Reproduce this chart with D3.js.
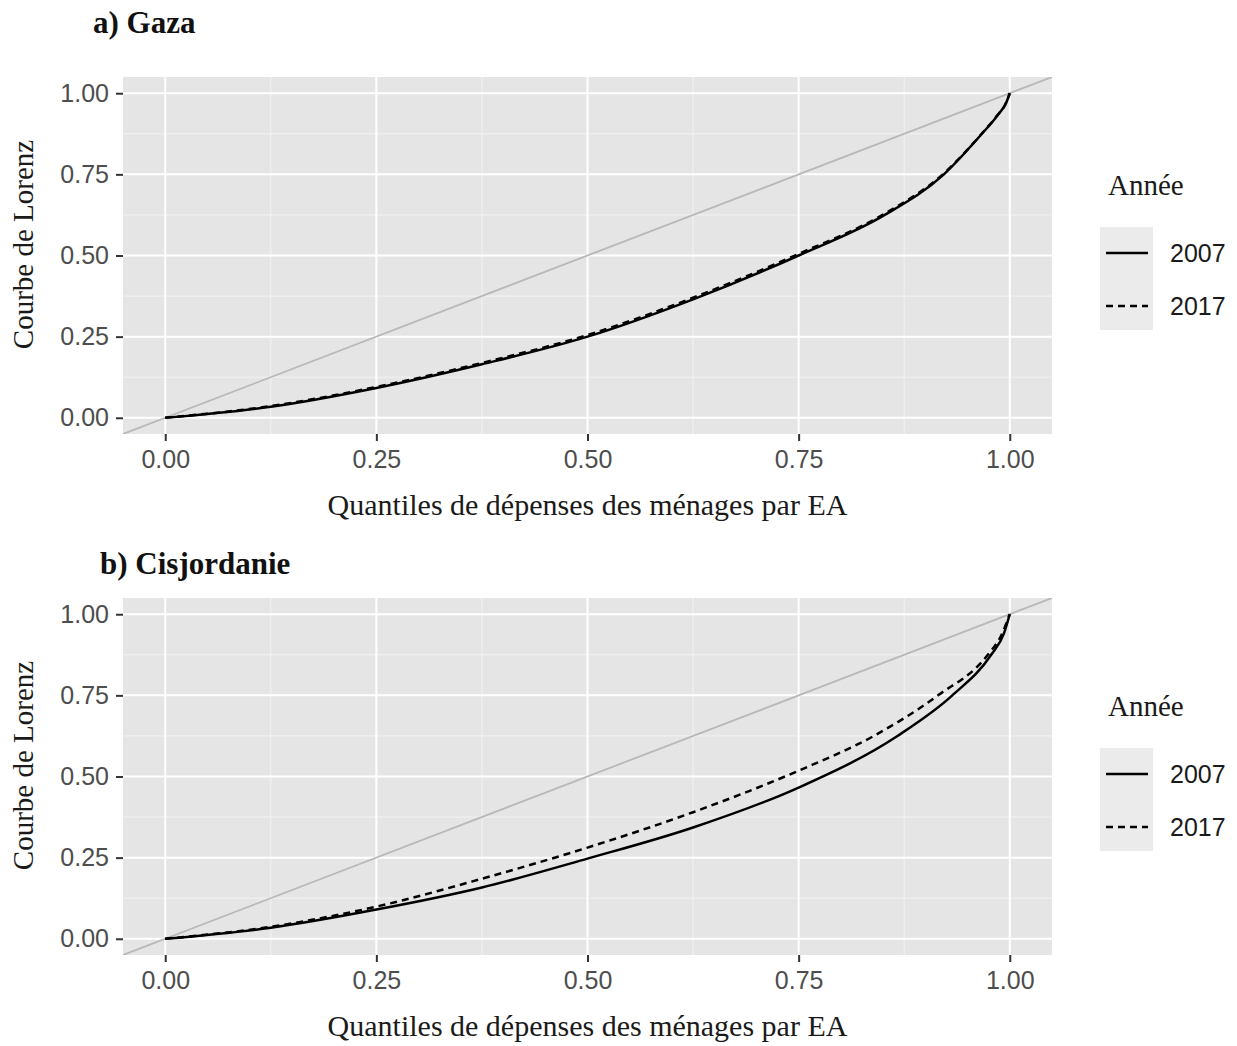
<!DOCTYPE html>
<html>
<head>
<meta charset="utf-8">
<script src="https://cdn.jsdelivr.net/npm/d3@7"></script>
<style>
  html, body { margin: 0; padding: 0; background: #ffffff; }
  svg { display: block; }
</style>
</head>
<body>
<svg id="chart" width="1237" height="1046"></svg>
<script>
// Lorenz curves of household expenditure per adult equivalent (EA)
const years = ["2007", "2017"];
const tickValues = [0, 0.25, 0.5, 0.75, 1];
const tickLabels = ["0.00", "0.25", "0.50", "0.75", "1.00"];
const minorValues = [0.125, 0.375, 0.625, 0.875];

// Gaza: cumulative population share -> cumulative expenditure share
const gazaP2007 = [0, 0.125, 0.25, 0.375, 0.5, 0.625, 0.75, 0.852, 0.922, 0.967, 0.985, 0.996, 1];
const gazaL2007 = [0, 0.034, 0.092, 0.165, 0.25, 0.365, 0.5, 0.625, 0.75, 0.875, 0.93, 0.972, 1];
const gazaP2017 = [0, 0.125, 0.25, 0.375, 0.5, 0.625, 0.75, 0.852, 0.922, 0.967, 0.985, 0.996, 1];
const gazaL2017 = [0, 0.036, 0.095, 0.169, 0.255, 0.37, 0.505, 0.629, 0.753, 0.876, 0.931, 0.972, 1];

// Cisjordanie (West Bank)
const wbP2007 = [0, 0.125, 0.25, 0.375, 0.5, 0.625, 0.75, 0.867, 0.932, 0.978, 0.993, 1];
const wbL2007 = [0, 0.034, 0.09, 0.158, 0.247, 0.343, 0.466, 0.625, 0.75, 0.875, 0.94, 1];
const wbP2017 = [0, 0.125, 0.25, 0.375, 0.5, 0.625, 0.75, 0.839, 0.915, 0.974, 0.99, 1];
const wbL2017 = [0, 0.037, 0.099, 0.185, 0.281, 0.39, 0.518, 0.625, 0.75, 0.875, 0.935, 1];

const zipSeries = (p, l) => p.map((v, i) => ({ p: v, l: l[i] }));

const panels = [
  {
    title: "a) Gaza", titleX: 93, titleY: 33, top: 77, bottom: 434, clip: "clipA",
    series: [zipSeries(gazaP2007, gazaL2007), zipSeries(gazaP2017, gazaL2017)]
  },
  {
    title: "b) Cisjordanie", titleX: 100, titleY: 574, top: 598, bottom: 955, clip: "clipB",
    series: [zipSeries(wbP2007, wbL2007), zipSeries(wbP2017, wbL2017)]
  }
];

const svg = d3.select("#chart");
const left = 123, right = 1052;
const serif = "'Liberation Serif', 'Times New Roman', serif";
const sans = "'Liberation Sans', Arial, sans-serif";
const dashes = [null, "7,5"];

const x = d3.scaleLinear().domain([-0.05, 1.05]).range([left, right]);

panels.forEach(panel => {
  const y = d3.scaleLinear().domain([-0.05, 1.05]).range([panel.bottom, panel.top]);
  const g = svg.append("g");

  // panel title
  svg.append("text")
    .attr("x", panel.titleX).attr("y", panel.titleY)
    .attr("font-family", serif).attr("font-weight", "bold")
    .attr("font-size", 31).attr("fill", "#111")
    .text(panel.title);

  // background
  g.append("rect")
    .attr("x", left).attr("y", panel.top)
    .attr("width", right - left).attr("height", panel.bottom - panel.top)
    .attr("fill", "#e5e5e5");

  svg.append("clipPath").attr("id", panel.clip)
    .append("rect")
    .attr("x", left).attr("y", panel.top)
    .attr("width", right - left).attr("height", panel.bottom - panel.top);

  // minor grid
  g.selectAll(".minx").data(minorValues).join("line")
    .attr("x1", d => x(d)).attr("x2", d => x(d))
    .attr("y1", panel.top).attr("y2", panel.bottom)
    .attr("stroke", "#f3f3f3").attr("stroke-width", 1);
  g.selectAll(".miny").data(minorValues).join("line")
    .attr("y1", d => y(d)).attr("y2", d => y(d))
    .attr("x1", left).attr("x2", right)
    .attr("stroke", "#f3f3f3").attr("stroke-width", 1);

  // major grid
  g.selectAll(".majx").data(tickValues).join("line")
    .attr("x1", d => x(d)).attr("x2", d => x(d))
    .attr("y1", panel.top).attr("y2", panel.bottom)
    .attr("stroke", "#ffffff").attr("stroke-width", 2);
  g.selectAll(".majy").data(tickValues).join("line")
    .attr("y1", d => y(d)).attr("y2", d => y(d))
    .attr("x1", left).attr("x2", right)
    .attr("stroke", "#ffffff").attr("stroke-width", 2);

  const plot = g.append("g").attr("clip-path", `url(#${panel.clip})`);

  // line of perfect equality
  plot.append("line")
    .attr("x1", x(-0.05)).attr("y1", y(-0.05))
    .attr("x2", x(1.05)).attr("y2", y(1.05))
    .attr("stroke", "#b8b8b8").attr("stroke-width", 1.8);

  const line = d3.line()
    .x(d => x(d.p)).y(d => y(d.l))
    .curve(d3.curveMonotoneX);

  panel.series.forEach((s, i) => {
    plot.append("path")
      .datum(s)
      .attr("d", line)
      .attr("fill", "none")
      .attr("stroke", "#000")
      .attr("stroke-width", 2.5)
      .attr("stroke-dasharray", dashes[i]);
  });

  // axes
  const xAxis = d3.axisBottom(x).tickValues(tickValues)
    .tickFormat((d, i) => tickLabels[i]).tickSize(7).tickPadding(9);
  const xg = svg.append("g").attr("transform", `translate(0,${panel.bottom})`).call(xAxis);
  const yAxis = d3.axisLeft(y).tickValues(tickValues)
    .tickFormat((d, i) => tickLabels[i]).tickSize(7).tickPadding(7);
  const yg = svg.append("g").attr("transform", `translate(${left},0)`).call(yAxis);
  [xg, yg].forEach(a => {
    a.select(".domain").remove();
    a.selectAll(".tick line").attr("stroke", "#333").attr("stroke-width", 2);
    a.selectAll(".tick text").attr("font-family", sans).attr("font-size", 25).attr("fill", "#4d4d4d");
  });

  // axis titles
  svg.append("text")
    .attr("x", (x(-0.05) + x(1.05)) / 2).attr("y", panel.bottom + 81)
    .attr("text-anchor", "middle")
    .attr("font-family", serif).attr("font-size", 30).attr("fill", "#1a1a1a")
    .text("Quantiles de dépenses des ménages par EA");
  svg.append("text")
    .attr("transform", `translate(33,${(panel.top + panel.bottom) / 2 - 11}) rotate(-90)`)
    .attr("text-anchor", "middle")
    .attr("font-family", serif).attr("font-size", 29).attr("fill", "#1a1a1a")
    .text("Courbe de Lorenz");

  // legend
  const lg = svg.append("g").attr("transform", `translate(1100,${panel.top})`);
  lg.append("text").attr("x", 8).attr("y", 118)
    .attr("font-family", serif).attr("font-size", 29).attr("fill", "#1a1a1a")
    .text("Année");
  lg.append("rect").attr("x", 0).attr("y", 150).attr("width", 53).attr("height", 103)
    .attr("fill", "#ebebeb");
  years.forEach((yr, i) => {
    const cy = 176 + i * 53;
    lg.append("line")
      .attr("x1", 6).attr("x2", 48).attr("y1", cy).attr("y2", cy)
      .attr("stroke", "#000").attr("stroke-width", 2.5)
      .attr("stroke-dasharray", dashes[i]);
    lg.append("text").attr("x", 70).attr("y", cy + 9)
      .attr("font-family", sans).attr("font-size", 25).attr("fill", "#1a1a1a")
      .text(yr);
  });
});
</script>
</body>
</html>
